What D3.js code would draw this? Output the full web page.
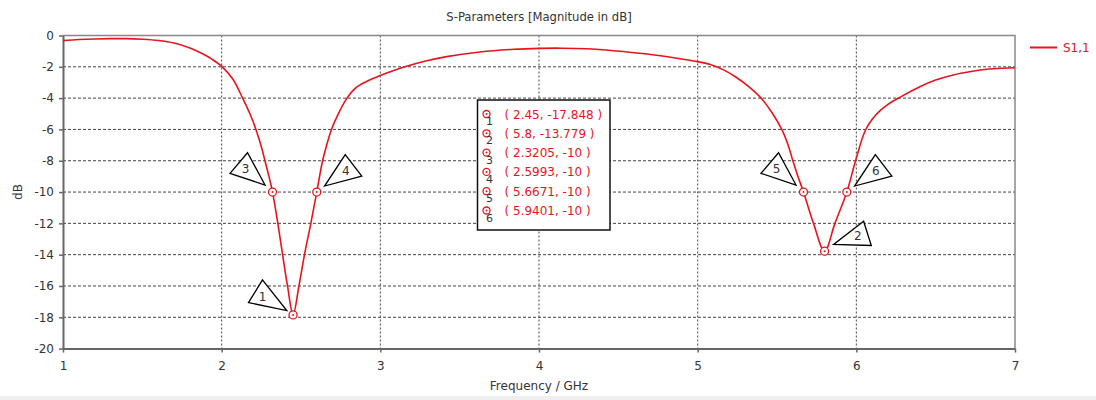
<!DOCTYPE html>
<html>
<head>
  <title>S-Parameters</title>
  <script src="https://d3js.org/d3.v7.min.js"></script>
  <style>
    body { margin: 0; background: #fff; }
    text { font-family: "DejaVu Sans", sans-serif; }
  </style>
</head>
<body>
<svg width="1096" height="400"></svg>
<script>
  // S1,1 magnitude
  const freq = [1.0, 1.1, 1.2, 1.3, 1.4, 1.5, 1.6, 1.7, 1.8, 1.88, 1.94, 2.0, 2.07, 2.132, 2.18, 2.216, 2.247, 2.273, 2.298,
    2.3205, 2.354, 2.384, 2.415, 2.45, 2.487, 2.522, 2.562, 2.5993, 2.636, 2.662, 2.692, 2.735, 2.79, 2.845, 2.91, 3.0,
    3.08, 3.155, 3.28, 3.418, 3.628, 3.84, 4.0, 4.15, 4.3, 4.47, 4.68, 4.85, 5.0, 5.08, 5.16, 5.24, 5.32, 5.4,
    5.47, 5.53, 5.57, 5.6, 5.632, 5.6671, 5.73, 5.8, 5.865, 5.9401, 5.995, 6.055, 6.1, 6.15, 6.2, 6.274, 6.4, 6.5,
    6.61, 6.72, 6.82, 6.92, 7.0];
  const s11 = [-0.33, -0.26, -0.22, -0.2, -0.2, -0.24, -0.32, -0.48, -0.8, -1.17, -1.52, -1.97, -2.78, -4.0, -5.05, -6.0, -7.0, -8.0, -9.0,
    -10, -12, -14, -16, -17.848, -16, -14, -12, -10, -8, -7, -6, -5, -4, -3.35, -2.95, -2.55,
    -2.25, -2.0, -1.65, -1.35, -1.05, -0.88, -0.82, -0.81, -0.85, -0.97, -1.18, -1.42, -1.67, -1.85, -2.18, -2.65, -3.25, -4.0,
    -4.95, -6.0, -7.0, -8.0, -9.0, -10, -12, -13.779, -12, -10, -8, -6.1, -5.35, -4.8, -4.4, -3.95, -3.27, -2.85,
    -2.52, -2.3, -2.16, -2.09, -2.06];

  const markerIds = [1, 2, 3, 4, 5, 6];
  const markerX = [2.45, 5.8, 2.3205, 2.5993, 5.6671, 5.9401];
  const markerY = [-17.848, -13.779, -10, -10, -10, -10];
  const markerText = ["( 2.45, -17.848 )", "( 5.8, -13.779 )", "( 2.3205, -10 )",
    "( 2.5993, -10 )", "( 5.6671, -10 )", "( 5.9401, -10 )"];

  const xTicks = [1, 2, 3, 4, 5, 6, 7];
  const yTicks = [-20, -18, -16, -14, -12, -10, -8, -6, -4, -2, 0];

  const red = "#e8141c";
  const svg = d3.select("svg");
  const pLeft = 63, pRight = 1015, pTop = 35.5, pBottom = 348.6;

  const x = d3.scaleLinear().domain([1, 7]).range([pLeft, pRight]);
  const y = d3.scaleLinear().domain([-20, 0]).range([pBottom, pTop]);

  // bottom strip
  svg.append("rect").attr("x", 0).attr("y", 396).attr("width", 1096).attr("height", 4).attr("fill", "#efefef");

  // grid
  svg.append("g").selectAll("line").data(yTicks.slice(1, -1)).enter().append("line")
    .attr("x1", pLeft).attr("x2", pRight).attr("y1", d => y(d)).attr("y2", d => y(d))
    .attr("stroke", "#444").attr("stroke-width", 1).attr("stroke-dasharray", "3,2");
  svg.append("g").selectAll("line").data(xTicks.slice(1, -1)).enter().append("line")
    .attr("y1", pTop).attr("y2", pBottom).attr("x1", d => x(d)).attr("x2", d => x(d))
    .attr("stroke", "#444").attr("stroke-width", 1).attr("stroke-dasharray", "2,2");

  // frame top/right
  svg.append("path").attr("d", `M${pLeft},${pTop}H${pRight}V${pBottom}`)
    .attr("fill", "none").attr("stroke", "#888").attr("stroke-width", 1.5);

  // axes
  const xAxis = svg.append("g").attr("transform", `translate(0,${pBottom})`)
    .call(d3.axisBottom(x).tickValues(xTicks).tickFormat(d3.format("d")).tickSize(4).tickSizeOuter(0).tickPadding(9));
  const yAxis = svg.append("g").attr("transform", `translate(${pLeft},0)`)
    .call(d3.axisLeft(y).tickValues(yTicks).tickFormat(d3.format("d")).tickSize(4).tickSizeOuter(0).tickPadding(5));
  [xAxis, yAxis].forEach(a => {
    a.select(".domain").attr("stroke", "#666").attr("stroke-width", 2);
    a.selectAll(".tick line").attr("stroke", "#666").attr("stroke-width", 1.5);
    a.selectAll("text").attr("font-size", 12).attr("fill", "#333").attr("font-family", "DejaVu Sans");
  });
  yAxis.selectAll("text").text(d => d === 0 ? "0" : d);

  // curve
  const pts = freq.map((f, i) => [f, s11[i]]);
  svg.append("path").datum(pts)
    .attr("fill", "none").attr("stroke", red).attr("stroke-width", 1.6)
    .attr("d", d3.line().x(d => x(d[0])).y(d => y(d[1])).curve(d3.curveCatmullRom.alpha(0.5)));

  // callout triangles (offsets relative to marker)
  const shapes = {
    ll: { pts: [[-30.6, -35], [-44.6, -12.3], [-6.3, -4.3]], lab: [-30.6, -18.3] },
    ul: { pts: [[-25, -39.3], [-42.5, -18.7], [-7.5, -7]], lab: [-27, -22.8] },
    ur: { pts: [[28.5, -37.5], [7.8, -6], [45, -16]], lab: [29, -20.8] },
    lr: { pts: [[39, -30], [9, -6.7], [46.7, -5.7]], lab: [33.3, -15] }
  };
  const markerShape = { 1: "ll", 2: "lr", 3: "ul", 4: "ur", 5: "ul", 6: "ur" };

  const mk = svg.append("g").selectAll("g").data(markerIds).enter().append("g")
    .attr("transform", (d, i) => `translate(${x(markerX[i])},${y(markerY[i])})`);
  mk.append("path")
    .attr("d", d => "M" + shapes[markerShape[d]].pts.map(p => p.join(",")).join("L") + "Z")
    .attr("fill", "#fff").attr("stroke", "#000").attr("stroke-width", 1.3).attr("stroke-linejoin", "miter");
  mk.append("text")
    .attr("x", d => shapes[markerShape[d]].lab[0]).attr("y", d => shapes[markerShape[d]].lab[1])
    .attr("text-anchor", "middle").attr("dominant-baseline", "central")
    .attr("font-size", 12).attr("fill", "#333").text(d => d);
  mk.append("circle").attr("r", 4).attr("fill", "#fff").attr("stroke", red).attr("stroke-width", 1.3);
  mk.append("circle").attr("r", 1).attr("fill", red);

  // marker table
  const box = svg.append("g").attr("transform", "translate(477.5,100)");
  box.append("rect").attr("width", 132.5).attr("height", 130)
    .attr("fill", "#fff").attr("stroke", "#111").attr("stroke-width", 1.5);
  const row = box.selectAll("g").data(markerIds).enter().append("g")
    .attr("transform", (d, i) => `translate(0,${14 + i * 19.3})`);
  row.append("circle").attr("cx", 9).attr("r", 3.5).attr("fill", "#fff").attr("stroke", red).attr("stroke-width", 1.3);
  row.append("circle").attr("cx", 9).attr("r", 1).attr("fill", red);
  row.append("text").attr("x", 12).attr("y", 11).attr("text-anchor", "middle")
    .attr("font-size", 11).attr("fill", "#333").text(d => d);
  row.append("text").attr("x", 27).attr("y", 4.5)
    .attr("font-size", 12).attr("fill", red).text((d, i) => markerText[i]);

  // titles
  svg.append("text").attr("x", 539).attr("y", 21).attr("text-anchor", "middle")
    .attr("font-size", 11.6).attr("fill", "#333").text("S-Parameters [Magnitude in dB]");
  svg.append("text").attr("x", 539).attr("y", 390).attr("text-anchor", "middle")
    .attr("font-size", 12).attr("fill", "#333").text("Frequency / GHz");
  svg.append("text").attr("transform", "translate(22,192) rotate(-90)").attr("text-anchor", "middle")
    .attr("font-size", 12).attr("fill", "#333").text("dB");

  // legend
  svg.append("line").attr("x1", 1030).attr("x2", 1057).attr("y1", 47.5).attr("y2", 47.5)
    .attr("stroke", red).attr("stroke-width", 2);
  svg.append("text").attr("x", 1063).attr("y", 52).attr("font-size", 12).attr("fill", red).text("S1,1");
</script>
</body>
</html>
